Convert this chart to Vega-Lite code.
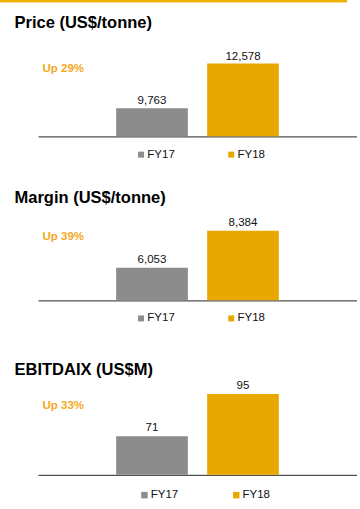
{
  "$schema": "https://vega.github.io/schema/vega-lite/v6.json",
  "padding": 0,
  "background": "white",
  "datasets": {
    "bars": [
      {"metric": "Price", "year": "FY17", "value": 9763, "change": ""},
      {"metric": "Price", "year": "FY18", "value": 12578, "change": "Up 29%"},
      {"metric": "Margin", "year": "FY17", "value": 6053, "change": ""},
      {"metric": "Margin", "year": "FY18", "value": 8384, "change": "Up 39%"},
      {"metric": "EBITDAIX", "year": "FY17", "value": 71, "change": ""},
      {"metric": "EBITDAIX", "year": "FY18", "value": 95, "change": "Up 33%"}
    ]
  },
  "spacing": 11,
  "resolve": {
    "scale": {"x": "independent", "y": "independent", "color": "independent"},
    "legend": {"color": "independent"}
  },
  "vconcat": [
    {
      "width": 347,
      "height": 2.3,
      "view": {"fill": "#EFB000", "stroke": null},
      "data": {"values": [{"part": "rule"}]},
      "mark": {"type": "rect", "color": "#EFB000"},
      "encoding": {}
    },
    {
      "title": {"text": "Price (US$/tonne)", "anchor": "start", "dx": 14.5, "offset": 10, "fontSize": 16.5, "font": "Liberation Sans", "fontWeight": "bold", "color": "#000000"},
      "width": 357,
      "height": 95.3,
      "data": {"name": "bars"},
      "transform": [{"filter": "datum.metric === 'Price'"}],
      "layer": [
        {
          "layer": [
            {"mark": {"type": "bar"},
             "encoding": {"color": {"field": "year", "type": "nominal", "scale": {"domain": ["FY17", "FY18"], "range": ["#8C8C8C", "#E8A800"]},
                      "legend": {"title": null, "orient": "none", "direction": "horizontal", "legendX": 117.6, "legendY": 89.8, "padding": 17.7, "symbolType": "square", "symbolSize": 36, "symbolStrokeWidth": 0, "labelFont": "Liberation Sans", "labelFontSize": 11.5, "labelColor": "#111111", "labelOffset": 0.5, "columnPadding": 50.2}}}},
            {"mark": {"type": "text", "font": "Liberation Sans", "fontSize": 11.5, "color": "#111111", "baseline": "alphabetic", "dy": -4},
             "encoding": {"text": {"field": "value", "type": "quantitative", "format": ","}}}
          ],
          "encoding": {
            "x": {"field": "year", "type": "nominal", "scale": {"domain": ["FY17", "FY18"], "range": [38, 357], "paddingInner": 0.212, "paddingOuter": 0.859},
                  "axis": {"title": null, "labels": false, "ticks": false, "domain": true, "domainColor": "#505050", "domainWidth": 1.3, "grid": false}},
            "y": {"field": "value", "type": "quantitative", "scale": {"domain": [8000, 14000], "zero": false, "nice": false, "clamp": true}, "axis": null}
          }
        },
        {
          "transform": [{"filter": "datum.change !== ''"}],
          "mark": {"type": "text", "font": "Liberation Sans", "fontSize": 11.5, "fontWeight": "bold", "color": "#F5A81E", "align": "left", "baseline": "alphabetic", "dy": 8},
          "encoding": {
            "x": {"field": "change", "type": "nominal", "scale": {"type": "point", "range": [42.5, 357], "align": 0, "padding": 0}, "axis": null},
            "y": {"field": "value", "type": "quantitative"},
            "text": {"field": "change", "type": "nominal"}
          }
        }
      ],
      "resolve": {"scale": {"x": "independent"}}
    },
    {
      "title": {"text": "Margin (US$/tonne)", "anchor": "start", "dx": 14.5, "offset": 6.5, "fontSize": 16.5, "font": "Liberation Sans", "fontWeight": "bold", "color": "#000000"},
      "width": 357,
      "height": 87.3,
      "data": {"name": "bars"},
      "transform": [{"filter": "datum.metric === 'Margin'"}],
      "layer": [
        {
          "layer": [
            {"mark": {"type": "bar"},
             "encoding": {"color": {"field": "year", "type": "nominal", "scale": {"domain": ["FY17", "FY18"], "range": ["#8C8C8C", "#E8A800"]},
                      "legend": {"title": null, "orient": "none", "direction": "horizontal", "legendX": 110.6, "legendY": 74.6, "padding": 24.7, "symbolType": "square", "symbolSize": 36, "symbolStrokeWidth": 0, "labelFont": "Liberation Sans", "labelFontSize": 11.5, "labelColor": "#111111", "labelOffset": 0.5, "columnPadding": 50.2}}}},
            {"mark": {"type": "text", "font": "Liberation Sans", "fontSize": 11.5, "color": "#111111", "baseline": "alphabetic", "dy": -4.5},
             "encoding": {"text": {"field": "value", "type": "quantitative", "format": ","}}}
          ],
          "encoding": {
            "x": {"field": "year", "type": "nominal", "scale": {"domain": ["FY17", "FY18"], "range": [38, 357], "paddingInner": 0.212, "paddingOuter": 0.859},
                  "axis": {"title": null, "labels": false, "ticks": false, "domain": true, "domainColor": "#505050", "domainWidth": 1.3, "grid": false}},
            "y": {"field": "value", "type": "quantitative", "scale": {"domain": [4000, 9500], "zero": false, "nice": false, "clamp": true}, "axis": null}
          }
        },
        {
          "transform": [{"filter": "datum.change !== ''"}],
          "mark": {"type": "text", "font": "Liberation Sans", "fontSize": 11.5, "fontWeight": "bold", "color": "#F5A81E", "align": "left", "baseline": "alphabetic", "dy": 9},
          "encoding": {
            "x": {"field": "change", "type": "nominal", "scale": {"type": "point", "range": [42.5, 357], "align": 0, "padding": 0}, "axis": null},
            "y": {"field": "value", "type": "quantitative"},
            "text": {"field": "change", "type": "nominal"}
          }
        }
      ],
      "resolve": {"scale": {"x": "independent"}}
    },
    {
      "title": {"text": "EBITDAIX (US$M)", "anchor": "start", "dx": 14.5, "offset": 2, "fontSize": 16.5, "font": "Liberation Sans", "fontWeight": "bold", "color": "#000000"},
      "width": 357,
      "height": 94.8,
      "data": {"name": "bars"},
      "transform": [{"filter": "datum.metric === 'EBITDAIX'"}],
      "layer": [
        {
          "layer": [
            {"mark": {"type": "bar"},
             "encoding": {"color": {"field": "year", "type": "nominal", "scale": {"domain": ["FY17", "FY18"], "range": ["#8C8C8C", "#E8A800"]},
                      "legend": {"title": null, "orient": "none", "direction": "horizontal", "legendX": 138.7, "legendY": 109, "padding": 0, "symbolType": "square", "symbolSize": 42, "symbolStrokeWidth": 0, "labelFont": "Liberation Sans", "labelFontSize": 11.5, "labelColor": "#111111", "labelOffset": 0.5, "columnPadding": 51.8}}}},
            {"mark": {"type": "text", "font": "Liberation Sans", "fontSize": 11.5, "color": "#111111", "baseline": "alphabetic", "dy": -5},
             "encoding": {"text": {"field": "value", "type": "quantitative", "format": ","}}}
          ],
          "encoding": {
            "x": {"field": "year", "type": "nominal", "scale": {"domain": ["FY17", "FY18"], "range": [38, 357], "paddingInner": 0.212, "paddingOuter": 0.859},
                  "axis": {"title": null, "labels": false, "ticks": false, "domain": true, "domainColor": "#505050", "domainWidth": 1.3, "grid": false}},
            "y": {"field": "value", "type": "quantitative", "scale": {"domain": [49, 103], "zero": false, "nice": false, "clamp": true}, "axis": null}
          }
        },
        {
          "transform": [{"filter": "datum.change !== ''"}],
          "mark": {"type": "text", "font": "Liberation Sans", "fontSize": 11.5, "fontWeight": "bold", "color": "#F5A81E", "align": "left", "baseline": "alphabetic", "dy": 15},
          "encoding": {
            "x": {"field": "change", "type": "nominal", "scale": {"type": "point", "range": [42.5, 357], "align": 0, "padding": 0}, "axis": null},
            "y": {"field": "value", "type": "quantitative"},
            "text": {"field": "change", "type": "nominal"}
          }
        }
      ],
      "resolve": {"scale": {"x": "independent"}}
    }
  ],
  "config": {
    "view": {"stroke": null},
    "font": "Liberation Sans"
  }
}
